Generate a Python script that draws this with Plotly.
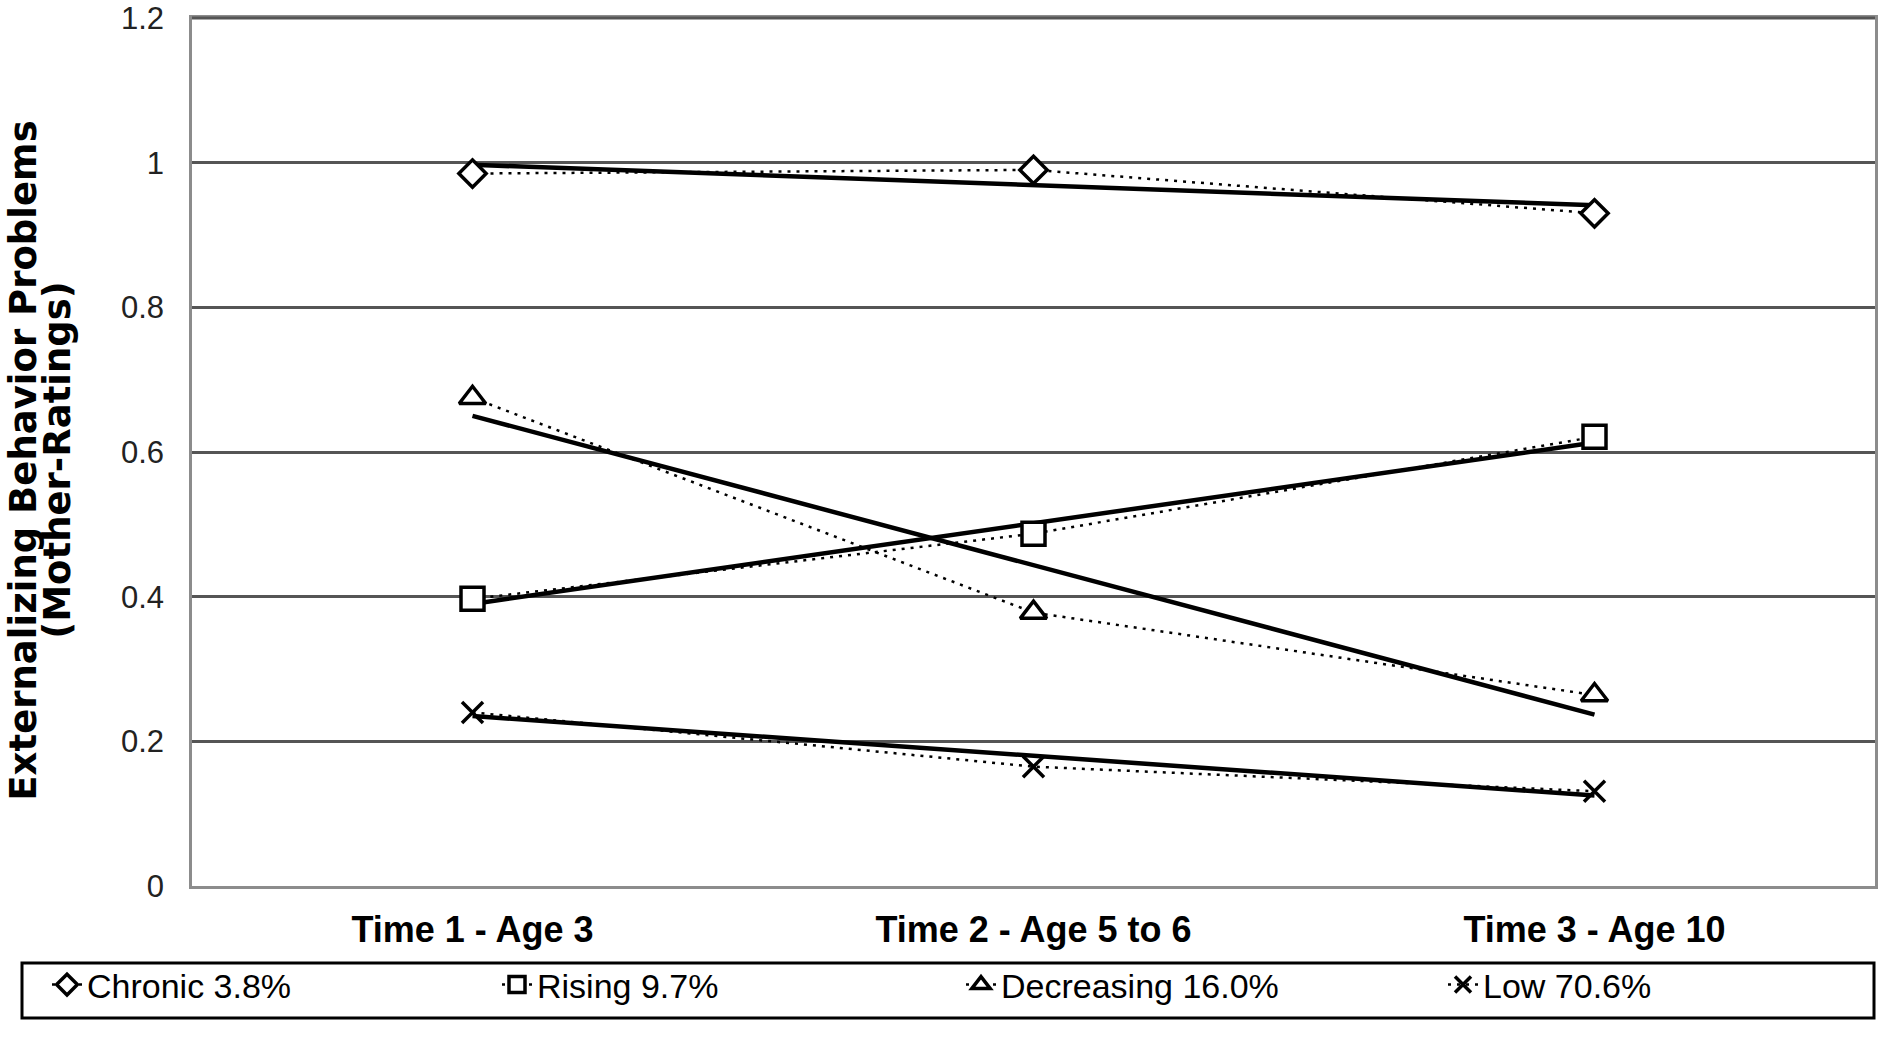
import plotly.graph_objects as go

# --- data --------------------------------------------------------------------
times = ["Time 1 - Age 3", "Time 2 - Age 5 to 6", "Time 3 - Age 10"]
y_ticks = [0, 0.2, 0.4, 0.6, 0.8, 1.0, 1.2]
y_tick_text = ["0", "0.2", "0.4", "0.6", "0.8", "1", "1.2"]

groups = ["Chronic 3.8%", "Rising 9.7%", "Decreasing 16.0%", "Low 70.6%"]
chronic = [0.985, 0.99, 0.93]
rising = [0.397, 0.487, 0.621]
decreasing = [0.675, 0.378, 0.264]
low = [0.24, 0.165, 0.131]

# straight trend lines (value at Time 1, value at Time 3)
trend_start = [0.997, 0.39, 0.65, 0.235]
trend_end = [0.941, 0.613, 0.237, 0.125]

series = [chronic, rising, decreasing, low]
symbols = ["diamond", "square", "triangle-up", "x-thin-open"]
msizes = [21, 23, 23, 21]
mfill = ["white", "white", "white", "black"]
# per-entry legend widths so the four keys land where the original has them
legend_w = [405, 419, 437, 200]

fig = go.Figure()

# solid trend lines first (no legend entries)
for s0, s1 in zip(trend_start, trend_end):
    fig.add_trace(go.Scatter(x=[times[0], times[-1]], y=[s0, s1], mode="lines",
                             line=dict(color="black", width=4.5),
                             showlegend=False, hoverinfo="skip"))

# dotted observed means with open markers
for name, vals, sym, ms, fc, lw in zip(groups, series, symbols, msizes, mfill, legend_w):
    fig.add_trace(go.Scatter(x=times, y=vals, mode="lines+markers", name=name,
                             line=dict(color="black", width=2.5, dash="3px,6px"),
                             marker=dict(symbol=sym, size=ms, color=fc,
                                         line=dict(color="black", width=3.5)),
                             legendwidth=lw))

L, R, T, B = 192, 4, 18, 151
W, H = 1879, 1037
pw, ph = W - L - R, H - T - B
base = "Liberation Sans, Arial, sans-serif"

fig.update_layout(
    width=W, height=H, template="none",
    paper_bgcolor="white", plot_bgcolor="white",
    margin=dict(l=L, r=R, t=T, b=B, autoexpand=False),
    font=dict(family=base, color="black"),
    xaxis=dict(type="category", categoryorder="array", categoryarray=times,
               range=[-0.5, 2.5], showgrid=False,
               showline=True, mirror=True, linecolor="#8c8c8c", linewidth=2.5,
               ticks="", zeroline=False,
               tickfont=dict(size=36, family=base, color="black", weight="bold"),
               ticklabelstandoff=10),
    yaxis=dict(range=[0, 1.2], tickvals=y_ticks, ticktext=y_tick_text,
               showgrid=True, gridcolor="#555555",
               gridwidth=2.5, showline=True, mirror=True, linecolor="#8c8c8c",
               linewidth=2.5, ticks="", zeroline=False, ticklabeloverflow="allow",
               tickfont=dict(size=31, color="#222222"), ticklabelstandoff=19),
    legend=dict(orientation="h", x=(47 - L) / pw, xanchor="left",
                y=-(956 - (T + ph)) / ph, yanchor="top",
                borderwidth=0, bgcolor="rgba(0,0,0,0)",
                font=dict(size=34, color="black"), itemwidth=30),
    showlegend=True,
)

# dark top frame line (the 1.2 gridline sits on the border)
fig.add_shape(type="line", xref="paper", yref="paper", x0=0, x1=1, y0=1, y1=1,
              line=dict(color="#555555", width=3))
# legend frame
fig.add_shape(type="rect", xref="paper", yref="paper",
              x0=(22 - L) / pw, x1=(1874 - L) / pw,
              y0=-(963 - (T + ph)) / ph, y1=-(1018 - (T + ph)) / ph,
              line=dict(color="black", width=3))

# y-axis title, two lines
ytitle_font = dict(family="DejaVu Sans, sans-serif", size=37, color="black", weight="bold")
fig.add_annotation(text="Externalizing Behavior Problems", xref="paper", yref="paper",
                   x=(24 - L) / pw, y=0.49, xanchor="center", yanchor="middle",
                   textangle=-90, showarrow=False, font=ytitle_font)
fig.add_annotation(text="(Mother-Ratings)", xref="paper", yref="paper",
                   x=(58 - L) / pw, y=0.49, xanchor="center", yanchor="middle",
                   textangle=-90, showarrow=False, font=ytitle_font)

fig.write_html("out.html", config={"displayModeBar": False},
               post_script="document.body.style.margin='0';")
